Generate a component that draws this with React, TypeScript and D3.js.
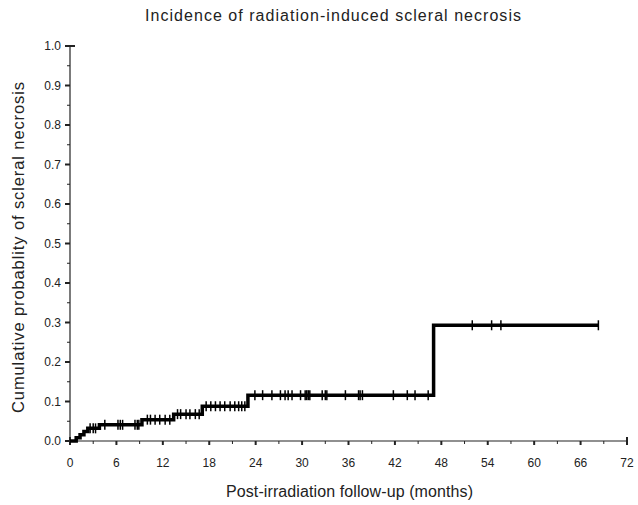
import { useRef, useEffect } from 'react';
import * as d3 from 'd3';

// Kaplan-Meier steps: [month, cumulative probability]
const eventTimes = [0, 0.8, 1.3, 1.8, 2.3, 3.8, 9.3, 13.4, 17.1, 23.0, 47.0];
const cumProb = [0, 0.008, 0.016, 0.024, 0.032, 0.041, 0.054, 0.068, 0.088, 0.116, 0.293];
const endTime = 68.3;

// censored observations (months)
const censored = [
  2.6, 3.0, 3.3,
  4.5, 6.2, 6.5, 6.8, 8.4, 8.7, 8.9,
  10.0, 10.4, 11.0, 11.6, 12.3, 12.9,
  13.9, 14.3, 15.0, 15.5, 16.2, 16.7,
  17.6, 18.2, 18.8, 19.4, 20.0, 20.7, 21.3, 21.8, 22.2, 22.6,
  23.9, 24.9, 26.1, 27.2, 27.8, 28.2, 28.7, 29.8, 30.4, 30.6, 30.8, 31.0,
  32.6, 33.0, 33.2, 35.6, 37.3, 37.5, 37.8, 41.8, 43.6, 44.6, 46.3,
  52.0, 54.5, 55.7, 68.3
];

const xTicks = d3.range(0, 73, 6);
const yTicks = d3.range(0, 1.01, 0.1);

const title = 'Incidence of radiation-induced scleral necrosis';
const xTitle = 'Post-irradiation follow-up (months)';
const yTitle = 'Cumulative probablity of scleral necrosis';

function probAt(t: number) {
  let p = 0;
  eventTimes.forEach((e, i) => { if (e <= t) p = cumProb[i]; });
  return p;
}

export default function App() {
  const svgRef = useRef<SVGSVGElement>(null);

  useEffect(() => {
    const width = 638, height = 505;
    const svg = d3.select(svgRef.current)
      .html('')
      .attr('width', width)
      .attr('height', height);

    const x = d3.scaleLinear().domain([0, 72]).range([70, 627]);
    const y = d3.scaleLinear().domain([0, 1]).range([441, 46]);
    const font = 'Liberation Sans, Arial, sans-serif';
    const ink = '#222';

    // Title
    svg.append('text')
      .attr('x', 333).attr('y', 21)
      .attr('text-anchor', 'middle')
      .attr('font-family', font).attr('font-size', 16)
      .attr('textLength', 376).attr('lengthAdjust', 'spacing')
      .attr('fill', ink)
      .text(title);

    // X axis
    const gx = svg.append('g').attr('transform', `translate(0,${y(0)})`);
    gx.append('line').attr('x1', x(0)).attr('x2', x(72)).attr('stroke', ink).attr('stroke-width', 1.2);
    d3.range(0, 73, 3).forEach(t => {
      const major = t % 6 === 0;
      const end = t === 0 || t === 72;
      gx.append('line')
        .attr('x1', x(t)).attr('x2', x(t))
        .attr('y1', end ? -4 : 0).attr('y2', major ? 4 : 3)
        .attr('stroke', ink).attr('stroke-width', major ? 2 : 1);
    });
    xTicks.forEach(t => {
      gx.append('text')
        .attr('x', x(t)).attr('y', 26)
        .attr('text-anchor', 'middle')
        .attr('font-family', font).attr('font-size', 12)
        .attr('fill', ink)
        .text(t);
    });

    // Y axis
    const gy = svg.append('g').attr('transform', `translate(${x(0)},0)`);
    gy.append('line').attr('y1', y(0)).attr('y2', y(1)).attr('stroke', ink).attr('stroke-width', 1.2);
    d3.range(0, 21).forEach(i => {
      const v = i / 20;
      const major = i % 2 === 0;
      const end = i === 0 || i === 20;
      gy.append('line')
        .attr('y1', y(v)).attr('y2', y(v))
        .attr('x1', major ? -5 : -3).attr('x2', end ? 5 : 0)
        .attr('stroke', ink).attr('stroke-width', major ? 2 : 1);
    });
    yTicks.forEach(v => {
      gy.append('text')
        .attr('x', -9).attr('y', y(v) + 4)
        .attr('text-anchor', 'end')
        .attr('font-family', font).attr('font-size', 12)
        .attr('fill', ink)
        .text(d3.format('.1f')(v));
    });

    // Axis titles
    svg.append('text')
      .attr('x', 349.5).attr('y', 497)
      .attr('text-anchor', 'middle')
      .attr('font-family', font).attr('font-size', 16)
      .attr('textLength', 247).attr('lengthAdjust', 'spacing')
      .attr('fill', ink)
      .text(xTitle);

    svg.append('text')
      .attr('transform', 'translate(24,247.5) rotate(-90)')
      .attr('text-anchor', 'middle')
      .attr('font-family', font).attr('font-size', 16.5)
      .attr('textLength', 331).attr('lengthAdjust', 'spacing')
      .attr('fill', ink)
      .text(yTitle);

    // Step curve
    const pts: [number, number][] = eventTimes.map((t, i) => [t, cumProb[i]]);
    pts.push([endTime, cumProb[cumProb.length - 1]]);
    const line = d3.line<[number, number]>()
      .x(d => x(d[0]))
      .y(d => y(d[1]))
      .curve(d3.curveStepAfter);

    svg.append('path')
      .datum(pts)
      .attr('fill', 'none')
      .attr('stroke', '#000')
      .attr('stroke-width', 3.5)
      .attr('d', line);

    // Censor marks
    svg.selectAll('.cens')
      .data(censored)
      .enter()
      .append('line')
      .attr('class', 'cens')
      .attr('x1', d => x(d)).attr('x2', d => x(d))
      .attr('y1', d => y(probAt(d)) - 5)
      .attr('y2', d => y(probAt(d)) + 5)
      .attr('stroke', '#000')
      .attr('stroke-width', 1.5);
  }, []);

  return (
    <svg ref={svgRef} style={{ position: 'absolute', left: 0, top: 0, background: '#fff' }} />
  );
}
